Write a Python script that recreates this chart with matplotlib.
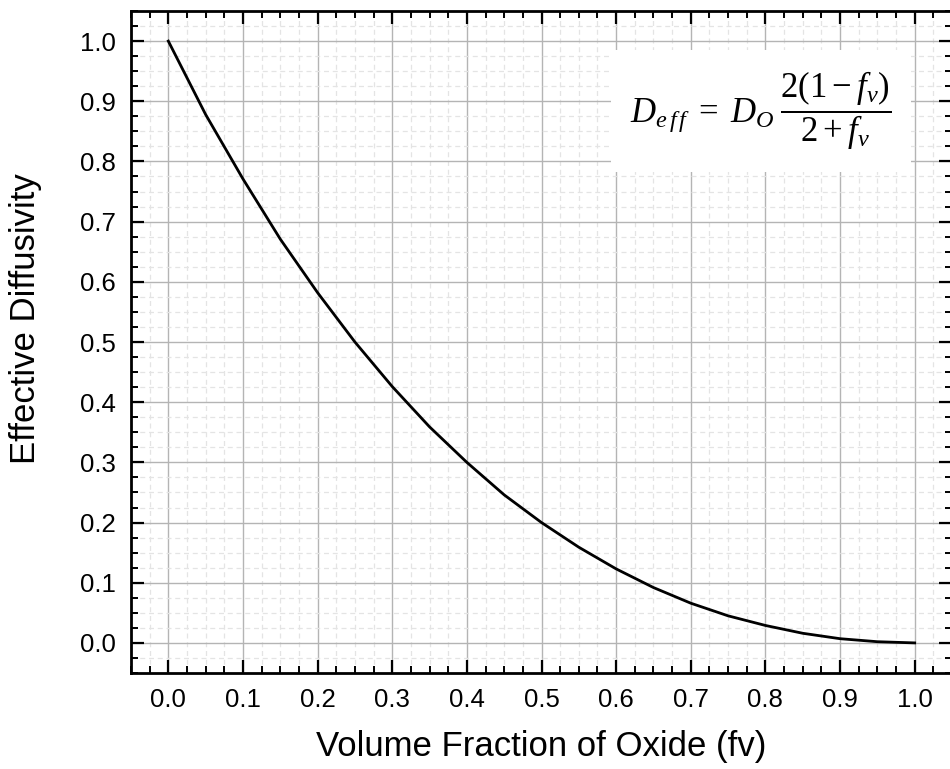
import numpy as np
import matplotlib
matplotlib.use('Agg')
import matplotlib.pyplot as plt
from matplotlib.ticker import MultipleLocator

# values
fv = [0.00, 0.05, 0.10, 0.15, 0.20, 0.25, 0.30, 0.35, 0.40, 0.45, 0.50,
      0.55, 0.60, 0.65, 0.70, 0.75, 0.80, 0.85, 0.90, 0.95, 1.00]
d_eff = [1.000, 0.878, 0.771, 0.671, 0.582, 0.500, 0.426, 0.359, 0.300, 0.246, 0.200,
         0.159, 0.123, 0.092, 0.066, 0.045, 0.029, 0.016, 0.007, 0.002, 0.000]

x_label = 'Volume Fraction of Oxide (fv)'
y_label = 'Effective Diffusivity'
formula = r'$D_{e\,f\,f}\;=\;D_O\;\dfrac{2(1-f_v)}{2+f_v}$'

plt.rcParams['font.family'] = ['Liberation Sans', 'DejaVu Sans']
plt.rcParams['mathtext.fontset'] = 'custom'
plt.rcParams['mathtext.rm'] = 'Liberation Serif'
plt.rcParams['mathtext.it'] = 'Liberation Serif:italic'

fig = plt.figure(figsize=(9.5, 7.69), dpi=100)
ax = fig.add_axes([131 / 950, 96 / 769, 821 / 950, 662 / 769])

ax.plot(fv, d_eff, color='black', lw=2.0, zorder=3)

ax.set_xlim(-0.05, 1.05)
ax.set_ylim(-0.05, 1.05)
ax.xaxis.set_major_locator(MultipleLocator(0.1))
ax.yaxis.set_major_locator(MultipleLocator(0.1))
ax.xaxis.set_minor_locator(MultipleLocator(0.025))
ax.yaxis.set_minor_locator(MultipleLocator(0.025))
ax.xaxis.set_major_formatter(lambda v, p: f'{v:.1f}')
ax.yaxis.set_major_formatter(lambda v, p: f'{v:.1f}')

ax.grid(which='major', color='#b4b4b4', lw=1.0, ls='-', zorder=0)
ax.grid(which='minor', color='#e4e4e4', lw=0.9, ls=(0, (4, 3)), zorder=0)
ax.set_axisbelow(True)

ax.tick_params(which='both', direction='in', top=True, right=True)
ax.tick_params(which='major', length=9.5, width=1.6, labelsize=18.5, pad=11)
ax.tick_params(which='minor', length=5, width=1.4)
for s in ax.spines.values():
    s.set_linewidth(2)

ax.set_xlabel(x_label, fontsize=25, labelpad=13)
ax.set_ylabel(y_label, fontsize=25)
ax.yaxis.set_label_coords(-0.108, 0.536)

ax.text(0.794, 0.884, formula, fontsize=25, ha='center', va='center', zorder=4,
        bbox=dict(facecolor='white', edgecolor='none', pad=14))

fig.savefig('out.png', dpi=100)
